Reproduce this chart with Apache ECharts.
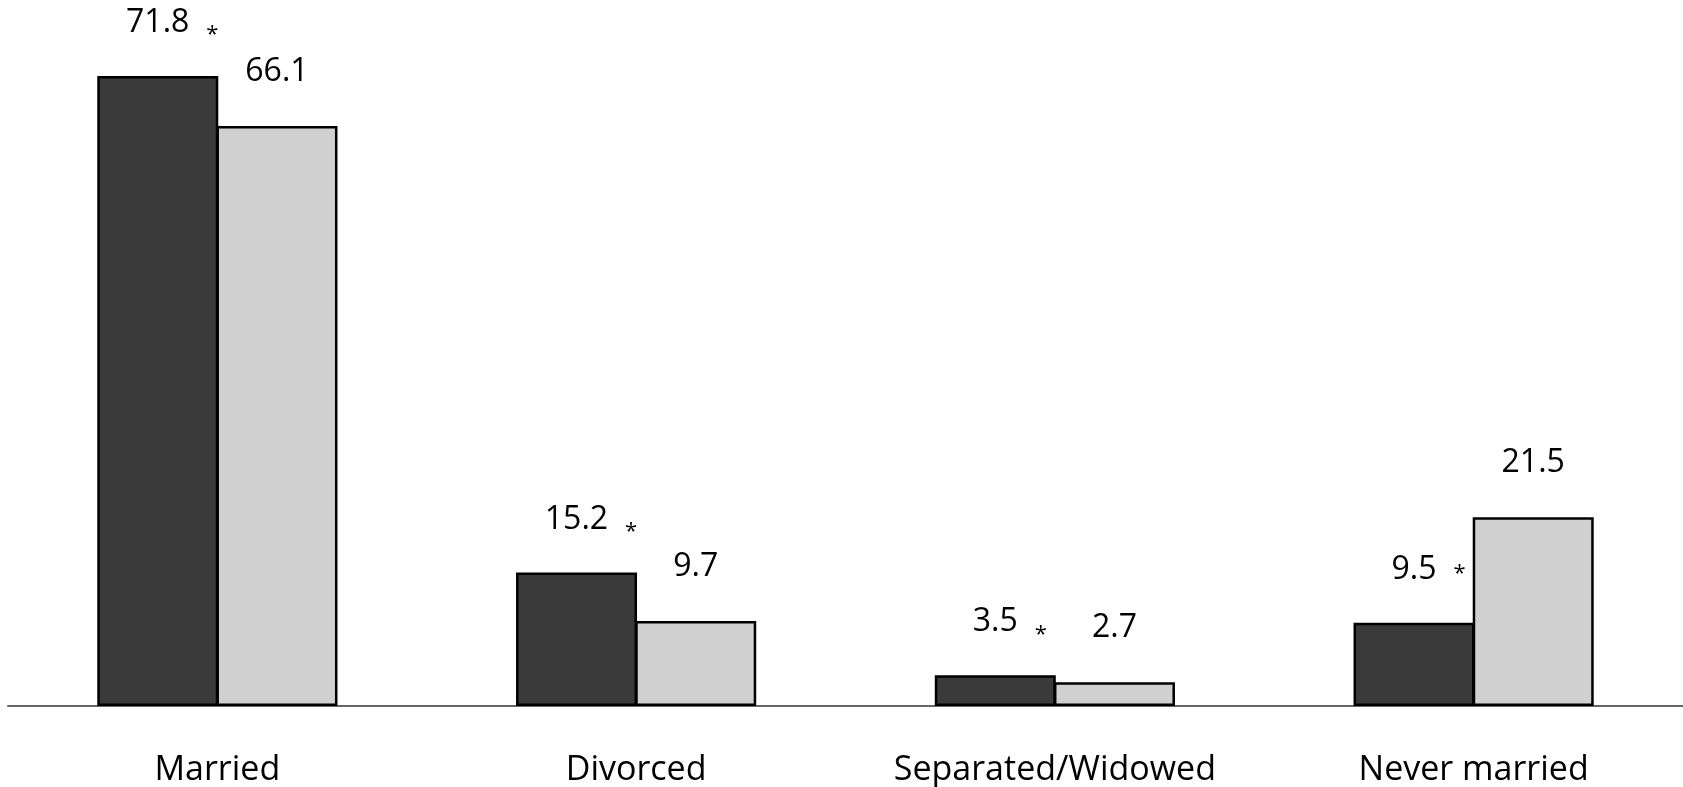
<!DOCTYPE html>
<html>
<head>
<meta charset="utf-8">
<script src="https://cdn.jsdelivr.net/npm/echarts@6/dist/echarts.min.js"></script>
<style>
  html, body { margin: 0; padding: 0; background: #fff; }
  #chart { width: 1683px; height: 787px; }
</style>
</head>
<body>
<div id="chart"></div>
<script>
const categories = ['Married', 'Divorced', 'Separated/Widowed', 'Never married'];
const groupA = [71.8, 15.2, 3.5, 9.5];
const groupB = [66.1, 9.7, 2.7, 21.5];
const significant = [true, true, true, true];

const FONT = '"Open Sans", sans-serif';

function richStyles(starAlign) {
  return {
    p: { width: 29, fontSize: 20, lineHeight: 10, verticalAlign: 'bottom' },
    v: { fontSize: 32, lineHeight: 38, color: '#000', fontFamily: FONT, padding: [0, 0, 8, 0] },
    s: { fontSize: 22, lineHeight: 10, color: '#000', fontFamily: FONT,
         padding: [0, 0, 0, 17], verticalAlign: starAlign }
  };
}

const dataA = groupA.map((v, i) => ({
  value: v,
  label: {
    formatter: significant[i] ? '{p|}{v|' + v.toFixed(1) + '}{s|*}' : '{v|' + v.toFixed(1) + '}',
    rich: richStyles(i === 3 ? 'middle' : 'bottom')
  }
}));

const chart = echarts.init(document.getElementById('chart'), null, { renderer: 'canvas' });
chart.setOption({
  animation: false,
  backgroundColor: '#fff',
  grid: { left: 8, right: 0, top: 4, bottom: 80, containLabel: false },
  xAxis: {
    type: 'category',
    data: categories,
    axisLine: { show: true, lineStyle: { color: '#666', width: 2 } },
    axisTick: { show: false },
    axisLabel: { interval: 0, fontFamily: FONT, fontSize: 34, color: '#000', margin: 47 }
  },
  yAxis: {
    type: 'value', min: 0, max: 80,
    show: false,
    splitLine: { show: false }
  },
  series: [
    {
      type: 'bar',
      data: dataA,
      barWidth: 121,
      barGap: '-1.5%',
      itemStyle: { color: '#3a3a3a', borderColor: '#000', borderWidth: 2.5 },
      label: { show: true, position: 'top', distance: 30, fontFamily: FONT }
    },
    {
      type: 'bar',
      data: groupB,
      barWidth: 121,
      barGap: '-1.5%',
      itemStyle: { color: '#d0d0d0', borderColor: '#000', borderWidth: 2.5 },
      label: {
        show: true, position: 'top', distance: 35,
        formatter: p => '{v|' + p.value.toFixed(1) + '}',
        rich: { v: { fontSize: 32, lineHeight: 38, color: '#000', fontFamily: FONT } }
      }
    }
  ]
});
</script>
</body>
</html>
